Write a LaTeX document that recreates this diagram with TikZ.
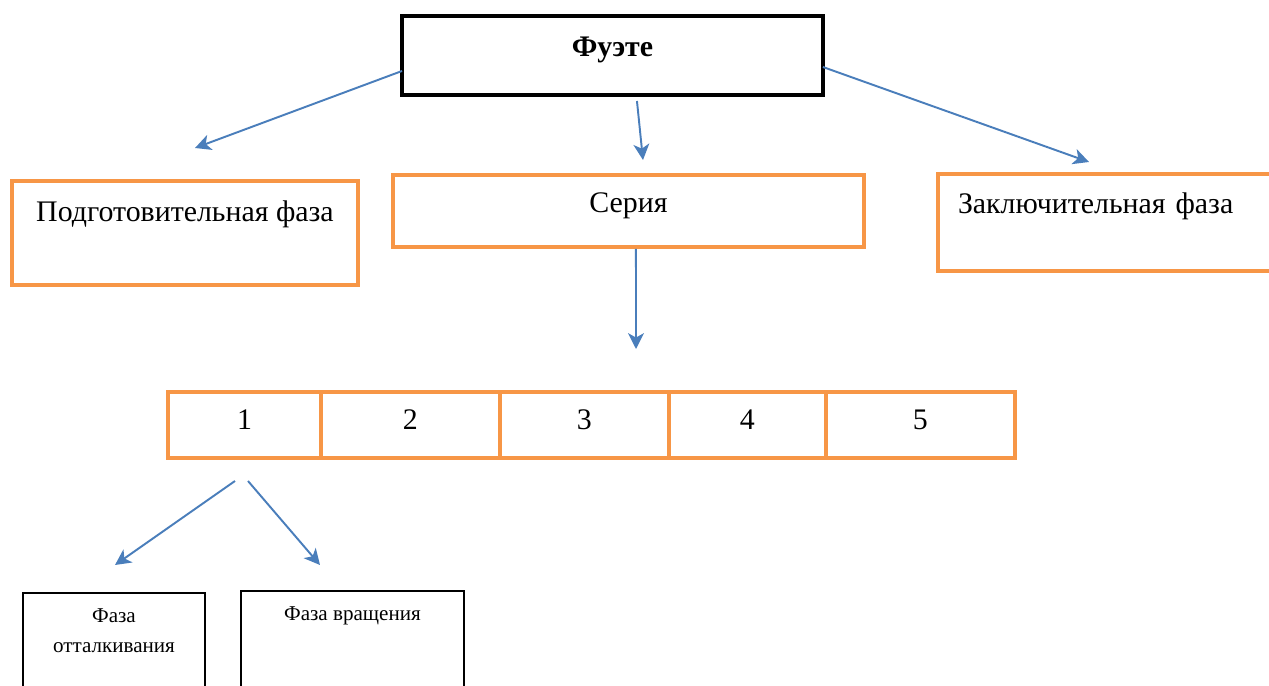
\documentclass[tikz,border=0pt]{standalone}
\usepackage{fontspec}
\setmainfont{Liberation Serif}
\usepackage{xcolor}
\usetikzlibrary{arrows.meta, positioning, calc}
\definecolor{boxorange}{HTML}{F79646}
\definecolor{arrowblue}{HTML}{4A7EBB}

\begin{document}
\begin{tikzpicture}[
  x=0.02cm, y=-0.02cm,
  every node/.style={font=\fontsize{17}{20}\selectfont},
  box/.style={draw, rectangle, inner sep=0pt, outer sep=0pt, anchor=north west},
  obox/.style={box, draw=boxorange, line width=2.3pt},
  cell/.style={obox, anchor=west, minimum height=1.32cm, text height=0.42cm, text depth=0.26cm},
  bbox/.style={box, line width=0.9pt, minimum height=2.6cm},
  small/.style={font=\fontsize{12}{17}\selectfont, align=center},
  arr/.style={-{Stealth[length=9pt, width=9pt, inset=2.5pt]}, arrowblue, line width=1.1pt}
]
\useasboundingbox (0,0) rectangle (1269,686);

% Nodes
\node[box, line width=2.6pt, minimum width=8.42cm, text height=0.82cm, text depth=0.76cm,
  font=\fontsize{17}{20}\selectfont\bfseries] (fouette) at (402,16) {Фуэте};
\node[obox, minimum width=6.92cm, text height=0.82cm, text depth=1.26cm] (prep) at (12,181)
  {Подготовительная фаза};
\node[obox, minimum width=9.42cm, text height=0.76cm, text depth=0.68cm] (seria) at (393,175)
  {Серия};
\node[obox, minimum width=7.04cm, inner xsep=0.4cm, text width=6.24cm, align=left,
  text height=0.8cm, text depth=1.14cm] (zakl) at (938,174) {Заключительная фаза};

% Series cells
\node[cell, minimum width=3.06cm] (c1) at (168,425) {1};
\node[cell, minimum width=3.58cm, right=0pt of c1] (c2) {2};
\node[cell, minimum width=3.38cm, right=0pt of c2] (c3) {3};
\node[cell, minimum width=3.14cm, right=0pt of c3] (c4) {4};
\node[cell, minimum width=3.78cm, right=0pt of c4] (c5) {5};

% Phases of one turn
\node[bbox, minimum width=3.64cm] (push) at (23,593) {};
\node[small, below=0.19cm of push.north] (pushtext) {Фаза\\отталкивания};
\node[bbox, minimum width=4.46cm] (spin) at (241,591) {};
\node[small, below=0.19cm of spin.north] (spintext) {Фаза вращения};

% Arrow tips
\coordinate (prepTip) at (195,148);
\coordinate (seriaTip) at (643,160);
\coordinate (zaklTip) at (1089,162);
\coordinate (rowTip) at (636,349);
\coordinate (pushTip) at (115,565);
\coordinate (spinTip) at (320,565);

% Arrows
\draw[arr] ($(fouette.west)+(0,15.5)$) -- (prepTip);
\draw[arr] ($(fouette.south)+(24.5,6)$) -- (seriaTip);
\draw[arr] ($(fouette.east)+(0,11.5)$) -- (zaklTip);
\draw[arr] ($(seria.south)+(7.5,2)$) -- (rowTip);
\draw[arr] ($(c1.south)+(-9.5,23)$) -- (pushTip);
\draw[arr] ($(c1.south)+(3.5,23)$) -- (spinTip);
\end{tikzpicture}
\end{document}
